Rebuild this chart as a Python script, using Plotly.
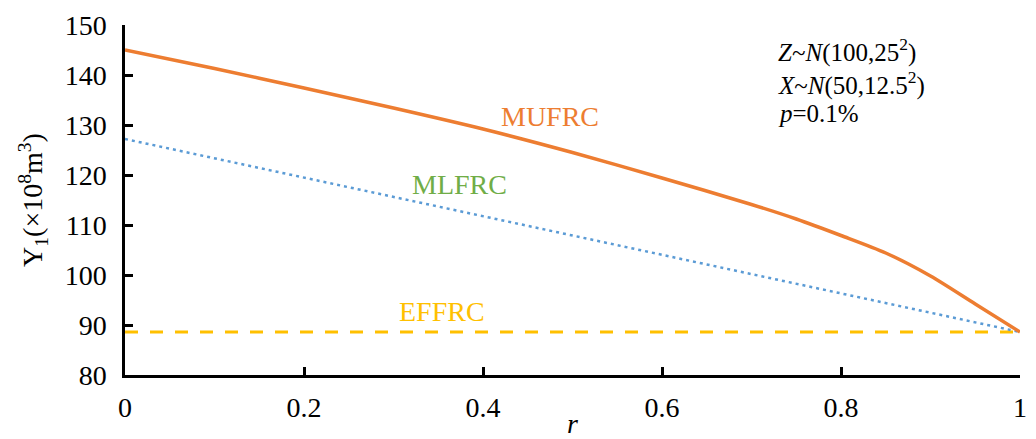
import plotly.graph_objects as go

r_mu = [0, 0.1, 0.2, 0.3, 0.4, 0.5, 0.6, 0.7, 0.75, 0.8, 0.85, 0.9, 0.95, 1.0]
mufrc = [145.0, 141.3, 137.4, 133.4, 129.2, 124.5, 119.4, 114.1, 111.2, 107.9, 104.4, 99.8, 94.2, 88.6]

r_ml = [0, 0.2, 0.4, 0.6, 0.8, 1.0]
mlfrc = [127.2, 119.5, 111.8, 104.0, 96.3, 88.6]

r_ef = [0, 1.0]
effrc = [88.6, 88.6]

ORANGE = "#ED7D31"
BLUE = "#5B9BD5"
GOLD = "#FFC000"
GREEN = "#70AD47"
FONT = "Liberation Serif, Times New Roman, Times, serif"

fig = go.Figure()
fig.add_trace(go.Scatter(x=r_ef, y=effrc, mode="lines", name="EFFRC",
                         line=dict(color=GOLD, width=3, dash="13px,12px")))
fig.add_trace(go.Scatter(x=r_ml, y=mlfrc, mode="lines", name="MLFRC",
                         line=dict(color=BLUE, width=2.5, dash="3px,4px")))
fig.add_trace(go.Scatter(x=r_mu, y=mufrc, mode="lines", name="MUFRC",
                         line=dict(color=ORANGE, width=3.5, shape="spline", smoothing=0.8)))

labels = [
    ("MUFRC", 0.475, 131.8, ORANGE),
    ("MLFRC", 0.374, 118.2, GREEN),
    ("EFFRC", 0.354, 92.8, GOLD),
]
for t, x, y, c in labels:
    fig.add_annotation(x=x, y=y, text=t, showarrow=False,
                       font=dict(family=FONT, size=28, color=c))

info = [
    ("<i>Z</i>~<i>N</i>(100,25<sup>2</sup>)", 145.0),
    ("<i>X</i>~<i>N</i>(50,12.5<sup>2</sup>)", 138.4),
    ("<i>p</i>=0.1%", 132.4),
]
for t, y in info:
    fig.add_annotation(x=0.727, y=y, text=t, showarrow=False, xanchor="left",
                       font=dict(family=FONT, size=25, color="black"))

fig.update_layout(
    width=1028, height=431,
    margin=dict(l=117, r=16, t=17, b=64, autoexpand=False),
    plot_bgcolor="white", paper_bgcolor="white",
    showlegend=False,
    font=dict(family=FONT, size=28, color="black"),
)
fig.update_xaxes(range=[0, 1], dtick=0.2, tick0=0, showgrid=False, zeroline=False,
                 showline=True, linecolor="black", linewidth=2.5, automargin=False,
                 ticks="inside", ticklen=8, tickwidth=2.5, tickcolor="black",
                 ticklabelstandoff=6,
                 title=dict(text="<i>r</i>", standoff=0, font=dict(size=28)))
fig.update_yaxes(range=[80, 150], dtick=10, showgrid=False, zeroline=False,
                 showline=True, linecolor="black", linewidth=2.5, automargin=False,
                 ticks="inside", ticklen=8, tickwidth=2.5, tickcolor="black",
                 ticklabelstandoff=10,
                 title=dict(text="Y<sub>1</sub>(×10<sup>8</sup>m<sup>3</sup>)", standoff=14,
                            font=dict(size=28)))

fig.write_html("out.html")
